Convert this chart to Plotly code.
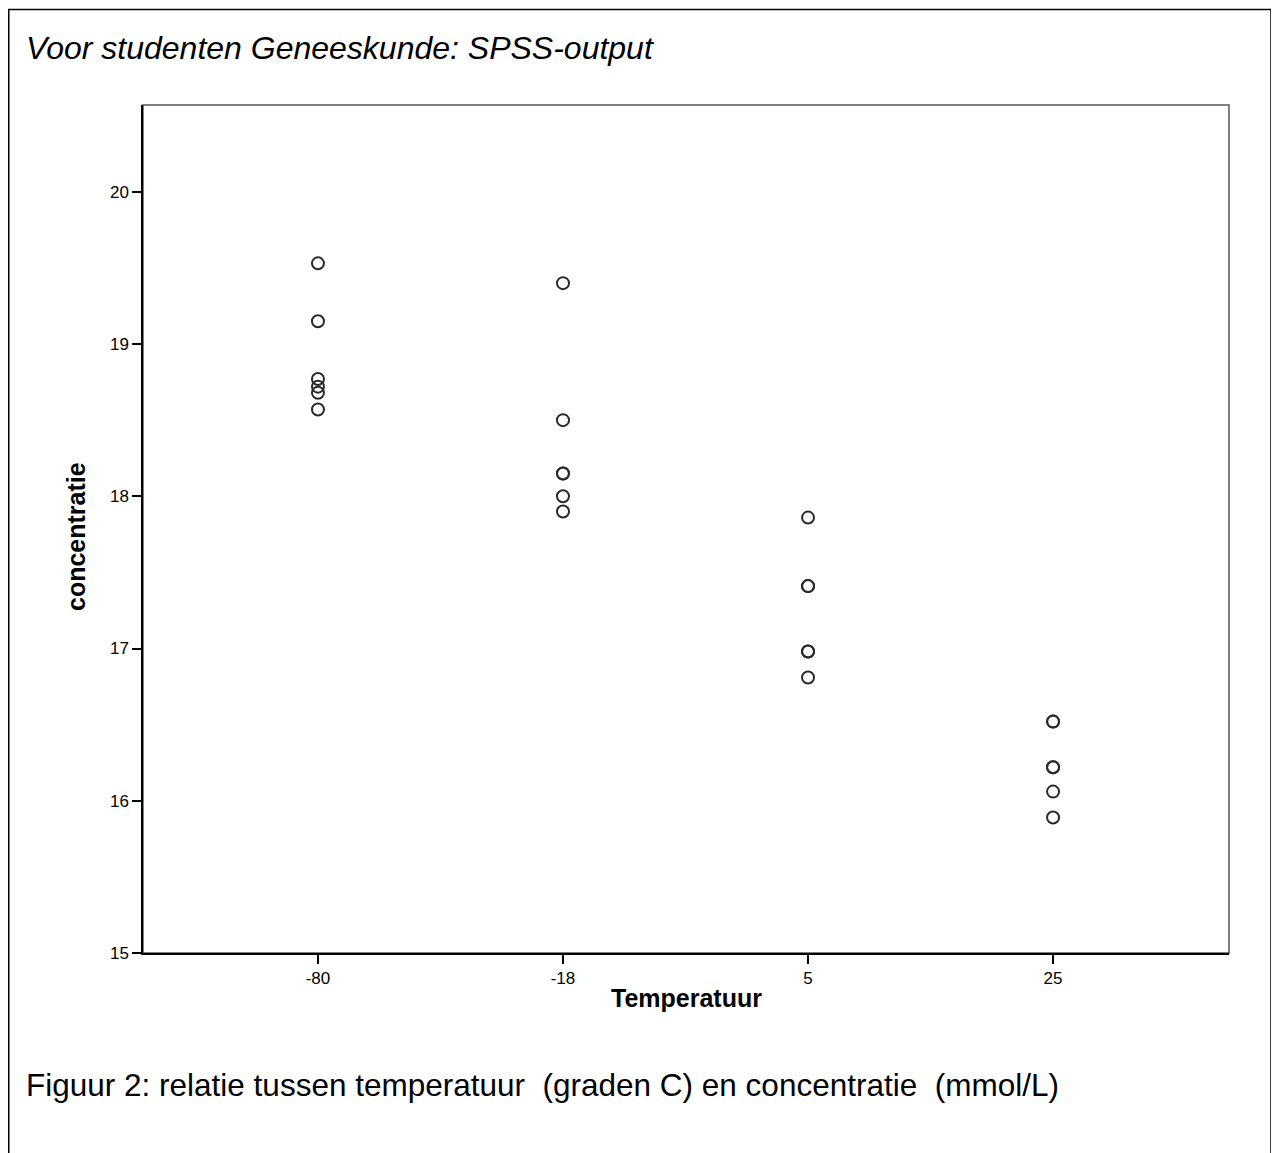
import plotly.graph_objects as go

temps = ["-80", "-18", "5", "25"]
conc_m80 = [19.53, 19.15, 18.77, 18.72, 18.68, 18.57]
conc_m18 = [19.40, 18.50, 18.15, 18.15, 18.00, 17.90]
conc_5 = [17.86, 17.41, 17.41, 16.98, 16.98, 16.81]
conc_25 = [16.52, 16.52, 16.22, 16.22, 16.06, 15.89]

# page is offset by the 8px body margin; work in page coordinates and shift
OFF = 8
W, H = 1279 - OFF, 1153 - OFF
L, R, T, B = 143 - OFF, 1229 - OFF, 105 - OFF, 953 - OFF

xs, ys = [], []
for t, vals in zip(temps, [conc_m80, conc_m18, conc_5, conc_25]):
    xs += [t] * len(vals)
    ys += vals

fig = go.Figure()
fig.add_trace(go.Scatter(
    x=xs, y=ys, mode="markers",
    marker=dict(symbol="circle-open", size=12, color="#2a2a2a",
                line=dict(width=2, color="#2a2a2a")),
    showlegend=False, hoverinfo="x+y"))

def px(xpage):
    return (xpage - OFF - L) / (R - L)

def py(ypage):
    return (B - (ypage - OFF)) / (B - T)

font = "Liberation Sans, Arial, sans-serif"
axis_common = dict(showgrid=False, zeroline=False, showline=True, linecolor="black",
                   linewidth=1.5, ticks="outside", ticklen=9, tickwidth=1.5,
                   tickcolor="black", tickfont=dict(size=17, family=font, color="black"))
fig.update_layout(
    width=W, height=H,
    margin=dict(l=L, r=W - R, t=T, b=H - B, pad=0),
    paper_bgcolor="white", plot_bgcolor="white",
    font=dict(family=font, size=17, color="black"),
    xaxis=dict(type="category", categoryorder="array", categoryarray=temps,
               range=[-0.714, 3.718], **axis_common),
    yaxis=dict(range=[15, 20.57], tickvals=[15, 16, 17, 18, 19, 20], **axis_common),
    shapes=[
        dict(type="rect", xref="paper", yref="paper", x0=0, x1=1, y0=0, y1=1,
             line=dict(color="#555555", width=1.5), layer="below"),
        dict(type="rect", xref="paper", yref="paper",
             x0=px(8.75), x1=px(1271), y0=py(1250), y1=py(9.5),
             line=dict(color="black", width=1.5), layer="below"),
    ],
    annotations=[
        dict(text="<i>Voor studenten Geneeskunde: SPSS-output</i>", xref="paper", yref="paper",
             x=px(24), y=py(48), xanchor="left", yanchor="middle", showarrow=False,
             font=dict(size=32, family=font, color="black")),
        dict(text="<b>concentratie</b>", xref="paper", yref="paper",
             x=px(76), y=py(537), xanchor="center", yanchor="middle", showarrow=False,
             textangle=-90, font=dict(size=25, family=font, color="black")),
        dict(text="<b>Temperatuur</b>", xref="paper", yref="paper",
             x=px(686), y=py(998), xanchor="center", yanchor="middle", showarrow=False,
             font=dict(size=25, family=font, color="black")),
        dict(text="Figuur 2: relatie tussen temperatuur  (graden C) en concentratie  (mmol/L)",
             xref="paper", yref="paper",
             x=px(24), y=py(1085), xanchor="left", yanchor="middle", showarrow=False,
             font=dict(size=31.5, family=font, color="black")),
    ],
)
fig.write_html("out.html")
